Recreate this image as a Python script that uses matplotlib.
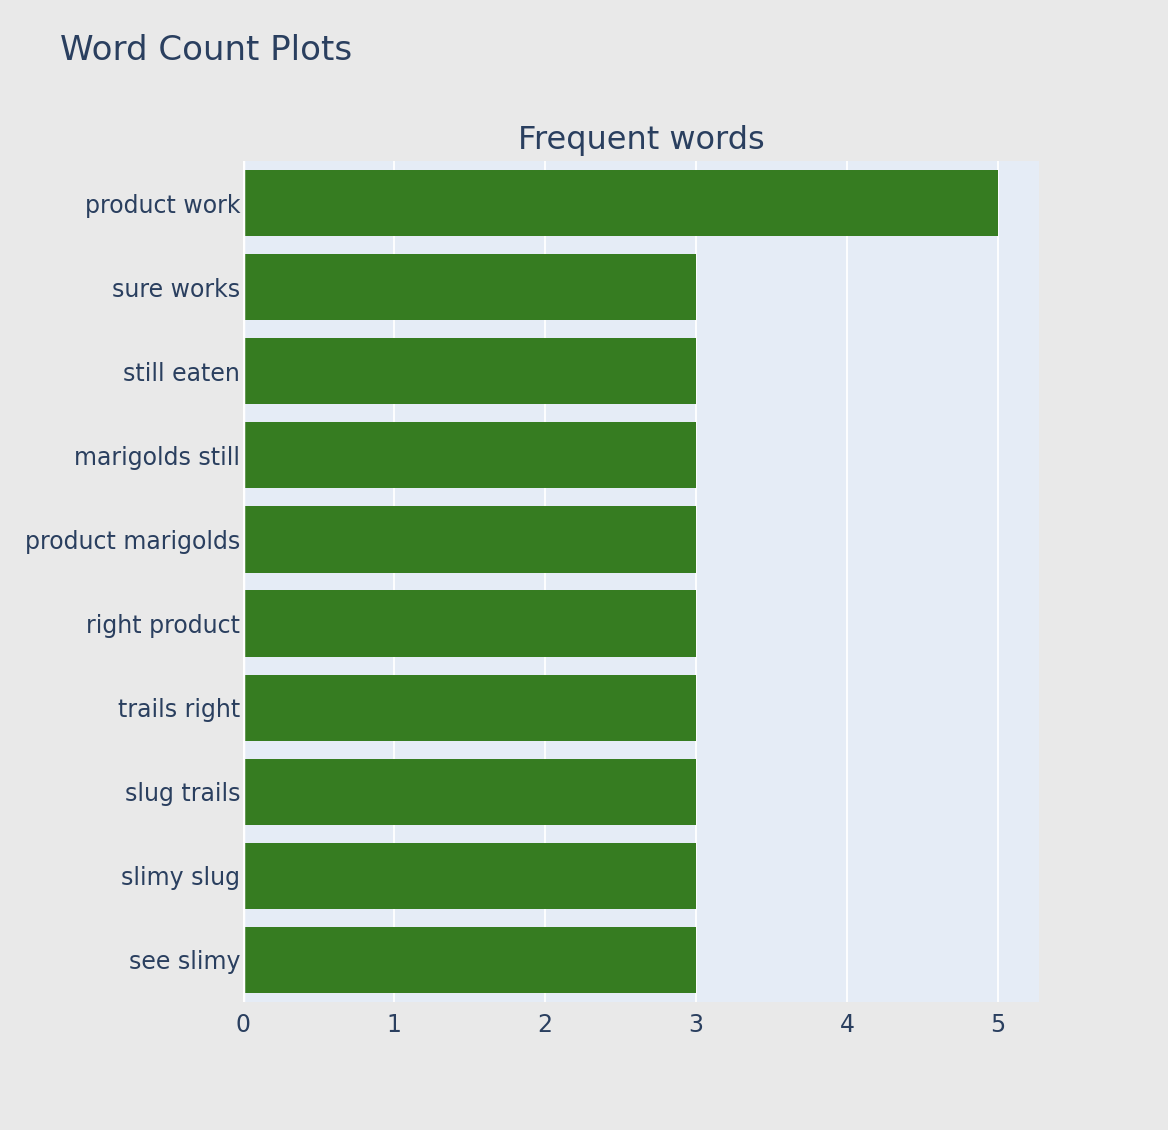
import matplotlib
matplotlib.use('Agg')
import matplotlib.pyplot as plt

# bigram counts, top to bottom as shown
words = ['product work', 'sure works', 'still eaten', 'marigolds still',
         'product marigolds', 'right product', 'trails right', 'slug trails',
         'slimy slug', 'see slimy']
counts = [5, 3, 3, 3, 3, 3, 3, 3, 3, 3]
xticks = [0, 1, 2, 3, 4, 5]

text_color = '#2a3f5f'
plt.rcParams['font.family'] = ['DejaVu Sans']

fig = plt.figure(figsize=(11.68, 11.30), dpi=100, facecolor='#e9e9e9')
ax = fig.add_axes([243 / 1168, 1 - 1002 / 1130, 796 / 1168, 841 / 1130])
ax.set_facecolor('#e5ecf6')

ypos = list(range(len(words)))
ax.barh(ypos, counts, height=0.786, color='#367c21', zorder=3)
ax.set_ylim(len(words) - 0.5, -0.5)
ax.set_xlim(0, 5.27)
ax.set_yticks(ypos)
ax.set_yticklabels(words)
ax.set_xticks(xticks)

ax.grid(axis='x', color='white', linewidth=1.3, zorder=1)
ax.axvline(0, color='white', linewidth=2.5, zorder=4)
for s in ax.spines.values():
    s.set_visible(False)
ax.tick_params(axis='y', length=0, pad=2, labelsize=17, labelcolor=text_color)
ax.tick_params(axis='x', length=0, pad=8, labelsize=17, labelcolor=text_color)

ax.set_title('Frequent words', fontsize=23, color=text_color, pad=9)
fig.text(60 / 1168, 1 - 50 / 1130, 'Word Count Plots', fontsize=24.5,
         color=text_color, va='center', ha='left')

fig.savefig('out.png', dpi=100, facecolor=fig.get_facecolor())
